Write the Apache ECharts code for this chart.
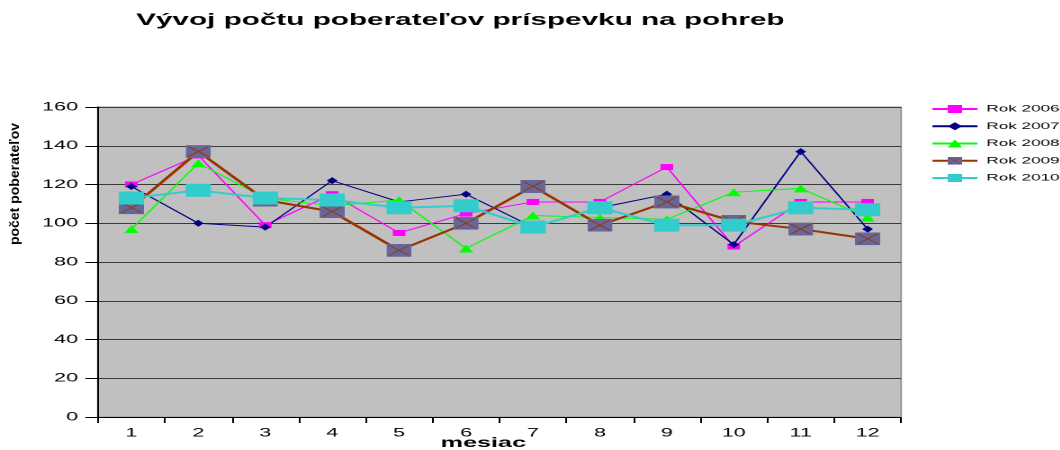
<!DOCTYPE html>
<html lang="sk">
<head>
<meta charset="UTF-8">
<title>Vývoj počtu poberateľov príspevku na pohreb</title>
<script src="https://cdn.jsdelivr.net/npm/echarts@6/dist/echarts.min.js"></script>
<style>
    html, body { margin: 0; padding: 0; overflow: hidden; background: #fff; }
    /* povodny graf je roztiahnuty do sirky, preto scaleX */
    #main { width: 589px; height: 450px; transform: scaleX(1.8); transform-origin: 0 0; }
</style>
</head>
<body>
<div id="main"></div>

<script type="text/javascript">
    var mesiace = ['1', '2', '3', '4', '5', '6', '7', '8', '9', '10', '11', '12'];
    var rok2006 = [120, 135, 99, 115, 95, 105, 111, 111, 129, 88, 111, 111];
    var rok2007 = [119, 100, 98, 122, 111, 115, 98, 108, 115, 89, 137, 97];
    var rok2008 = [97, 131, 113, 109, 112, 87, 104, 103, 102, 116, 118, 103];
    var rok2009 = [108, 137, 112, 106, 86, 100, 119, 99, 111, 101, 97, 92];
    var rok2010 = [113, 117, 113, 112, 108, 109, 98, 108, 99, 99, 108, 107];

    var sx = 1.8; // horizontalne natiahnutie
    var pismo = '"Liberation Sans", Arial, sans-serif';

    // fialovy stvorec s hnedym krizikom (Rok 2009)
    var krizik = '<svg xmlns="http://www.w3.org/2000/svg" width="28" height="26" viewBox="0 0 14 13">' +
        '<rect width="14" height="13" fill="#666699"/>' +
        '<path d="M1.5 1.5L12.5 11.5M12.5 1.5L1.5 11.5" stroke="#993300" stroke-width="0.8" fill="none"/></svg>';
    var krizikSymbol = 'image://data:image/svg+xml;charset=utf-8,' + encodeURIComponent(krizik);

    function rad(meno, data, farba, hrubka, symbol, velkost) {
        return {
            name: meno,
            type: 'line',
            data: data,
            symbol: symbol,
            symbolSize: velkost,
            showAllSymbol: true,
            lineStyle: {color: farba, width: hrubka},
            itemStyle: {color: farba},
            emphasis: {disabled: true}
        };
    }

    var myChart = echarts.init(document.getElementById('main'), null, {devicePixelRatio: 2});

    var option = {
        animation: false,
        title: {
            text: 'Vývoj počtu poberateľov príspevku na pohreb',
            left: 75.6,
            top: 12,
            padding: 0,
            textStyle: {fontFamily: pismo, fontSize: 16.5, fontWeight: 'bold', color: '#000'}
        },
        legend: {
            orient: 'vertical',
            left: 517,
            top: 104,
            padding: 0,
            itemWidth: 25,
            itemHeight: 10,
            itemGap: 7.25,
            textStyle: {fontFamily: pismo, fontSize: 9.5, color: '#000'},
            data: ['Rok 2006', 'Rok 2007', 'Rok 2008', 'Rok 2009', 'Rok 2010']
        },
        grid: {
            left: 54.4,
            right: 88.4,
            top: 107,
            bottom: 33,
            outerBoundsMode: 'none',
            show: true,
            backgroundColor: '#c0c0c0',
            borderColor: '#999',
            borderWidth: 1
        },
        graphic: [{
            type: 'text',
            x: 15 / sx,
            y: 184,
            rotation: Math.PI / 2,
            scaleY: 1 / sx,
            style: {
                text: 'počet poberateľov',
                font: 'bold 14px ' + pismo,
                fill: '#000',
                align: 'center',
                verticalAlign: 'middle',
                textAlign: 'center',
                textVerticalAlign: 'middle'
            }
        }],
        xAxis: {
            type: 'category',
            boundaryGap: true,
            data: mesiace,
            name: 'mesiac',
            nameLocation: 'middle',
            nameGap: 19,
            nameMoveOverlap: false,
            nameTextStyle: {fontFamily: pismo, fontSize: 14, fontWeight: 'bold', color: '#000', padding: [0, 18, 0, 0]},
            axisLine: {lineStyle: {color: '#000', width: 1}},
            axisTick: {show: true, length: 6, interval: 0, lineStyle: {color: '#000'}},
            axisLabel: {fontFamily: pismo, fontSize: 12, color: '#000', margin: 10, interval: 0},
            splitLine: {show: false}
        },
        yAxis: {
            type: 'value',
            min: 0,
            max: 160,
            interval: 20,
            axisLine: {show: true, lineStyle: {color: '#000', width: 1}},
            axisTick: {show: true, length: 7, lineStyle: {color: '#000'}},
            axisLabel: {fontFamily: pismo, fontSize: 12, color: '#000', margin: 11},
            splitLine: {show: true, lineStyle: {color: '#3a3a3a', width: 1}}
        },
        series: [
            rad('Rok 2006', rok2006, '#ff00ff', 1, 'rect', [7, 6]),
            rad('Rok 2007', rok2007, '#000080', 1, 'diamond', [6, 7]),
            rad('Rok 2008', rok2008, '#00ff00', 1, 'triangle', [8, 8]),
            rad('Rok 2009', rok2009, '#993300', 2, krizikSymbol, [14, 13]),
            rad('Rok 2010', rok2010, '#33cccc', 2, 'rect', [14, 13])
        ]
    };

    myChart.setOption(option);
</script>
</body>
</html>
